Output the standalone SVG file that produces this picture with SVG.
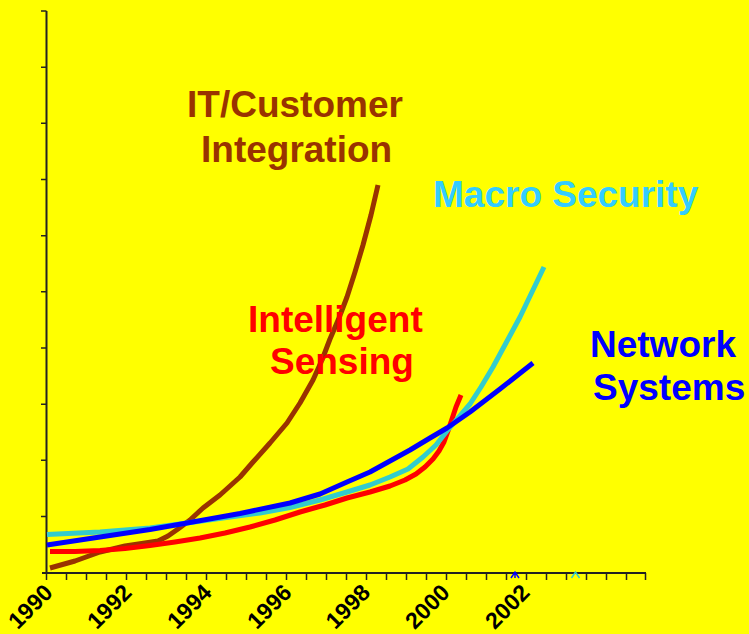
<svg xmlns="http://www.w3.org/2000/svg" width="749" height="634" viewBox="0 0 749 634">
<style>
.ax{stroke:#222;stroke-width:2;fill:none}
.tk{stroke:#222;stroke-width:1.5;fill:none}
.crv{fill:none;stroke-width:5;stroke-linejoin:round;stroke-linecap:butt}
.lbl{font-family:"Liberation Sans",Arial,sans-serif;font-weight:bold;font-size:37px}
.yr{font-family:"Liberation Sans",Arial,sans-serif;font-weight:bold;font-size:23px;fill:#000;text-anchor:end}
</style>
<rect width="749" height="634" fill="#FFFF00"/>
<g id="axes">
<line class="ax" x1="46.5" y1="11" x2="46.5" y2="574"/>
<line class="ax" x1="42" y1="573" x2="646" y2="573"/>
<path class="tk" d="M41,11H46.5M41,67.2H46.5M41,123.3H46.5M41,179.5H46.5M41,235.7H46.5M41,291.8H46.5M41,348H46.5M41,404.2H46.5M41,460.3H46.5M41,516.5H46.5"/>
<path class="tk" d="M46.5,573V580M66.5,573V580M86.5,573V580M106.5,573V580M126.5,573V580M146.5,573V580M166.5,573V580M186.5,573V580M206.5,573V580M226.5,573V580M246.5,573V580M266.5,573V580M286.5,573V580M306.5,573V580M326.5,573V580M346.5,573V580M366.5,573V580M386.5,573V580M406.5,573V580M426.5,573V580M446.5,573V580M466.5,573V580M486.5,573V580M506.5,573V580M526.5,573V580M546.5,573V580M566.5,573V580M586.5,573V580M606.5,573V580M626.5,573V580M645.5,573V580"/>
</g>
<g id="year-labels">
<text class="yr" transform="translate(54,594) rotate(-45)">1990</text>
<text class="yr" transform="translate(133,594) rotate(-45)">1992</text>
<text class="yr" transform="translate(213,594) rotate(-45)">1994</text>
<text class="yr" transform="translate(293,594) rotate(-45)">1996</text>
<text class="yr" transform="translate(371.5,594) rotate(-45)">1998</text>
<text class="yr" transform="translate(451,594) rotate(-45)">2000</text>
<text class="yr" transform="translate(531,594) rotate(-45)">2002</text>
</g>
<g id="connectors">
<polyline id="it-customer-curve" class="crv" stroke="#993300" stroke-width="4.5" points="50,568 75,561 100,552 125,546 145,543 158,541 168,536 178,529 190,520 203,508 220,495 240,477 253,462 270,443 287,423 300,403 313,380 322,360 330,339 339,318 347,297 355,272 363,245 371,215 378,185"/>
<polyline id="intelligent-sensing-curve" class="crv" stroke="#FF0000" points="50,551.5 75,551.5 100,550.5 125,548.5 150,545.5 175,542 200,538 225,533 250,527 275,520 300,512 325,505 347,498 370,492 390,486 405,480 416,474 425,467 433,459 439,451 444,442 448,431 452,419 456,407 461,395"/>
<polyline id="macro-security-curve" class="crv" stroke="#33CCCC" points="47,534.5 100,532 150,528 187,523 230,517 260,513 290,507.5 320,500 347,492 370,485 390,477 408,469 423,457 436,445 447,431 458,418 470,404 481,387 493,367 506,343 520,317 532,292 544,267"/>
<polyline id="network-systems-curve" class="crv" stroke="#0000FF" points="47,545 100,537 150,529.5 187,523 240,513.5 290,503 320,494 347,482 370,472 390,461 410,450 430,438 447,428 470,412 500,389 533,363"/>
<path d="M511,578L515,572L519,578M515,572V578" stroke="#0000FF" stroke-width="1.5" fill="none"/>
<path d="M571.5,578L575.5,572L579.5,578" stroke="#33CCCC" stroke-width="1.5" fill="none"/>
</g>
<g id="it-customer-label" class="lbl" fill="#993300">
<text x="187" y="117">IT/Customer</text>
<text x="201" y="162">Integration</text>
</g>
<g id="macro-security-label" class="lbl" fill="#33CCFF">
<text x="433" y="207">Macro Security</text>
</g>
<g id="intelligent-sensing-label" class="lbl" fill="#FF0000">
<text x="248" y="332">Intelligent</text>
<text x="270" y="374">Sensing</text>
</g>
<g id="network-systems-label" class="lbl" fill="#0000FF">
<text x="590" y="357">Network</text>
<text x="593" y="400">Systems</text>
</g>
</svg>
